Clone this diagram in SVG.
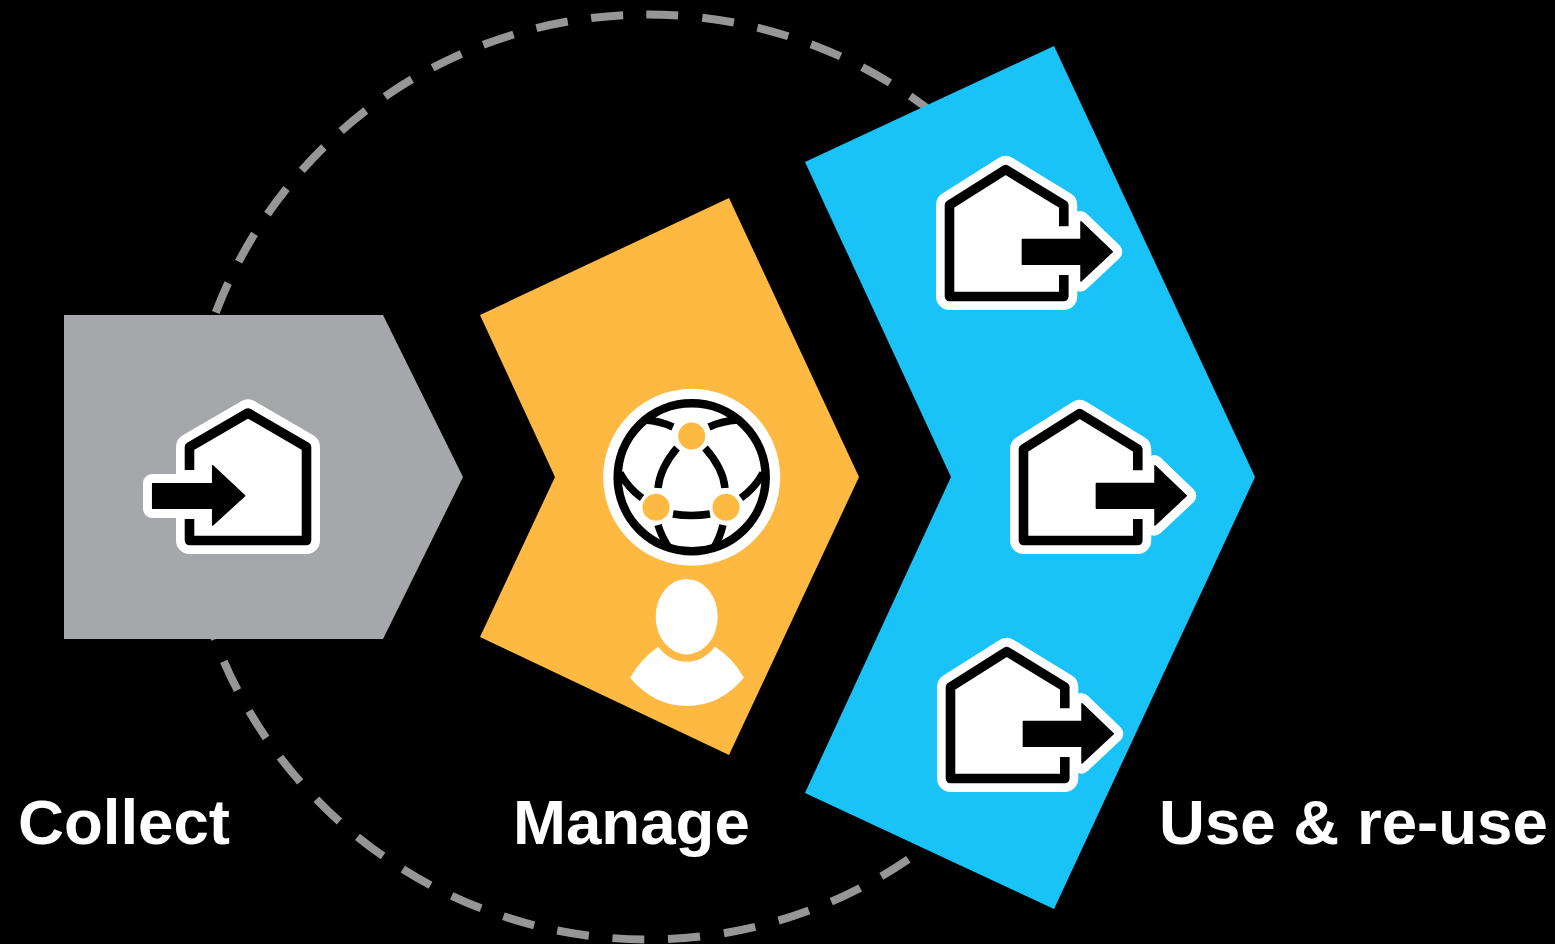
<svg xmlns="http://www.w3.org/2000/svg" xmlns:xlink="http://www.w3.org/1999/xlink" width="1555" height="944" viewBox="0 0 1555 944">
<style>
.label{font-family:"Liberation Sans",Arial,sans-serif;font-weight:700;font-size:63.6px;fill:#fff}
.halo{fill:#fff;stroke:#fff;stroke-linejoin:round}
.wall{fill:none;stroke:#000;stroke-width:9.6;stroke-linejoin:round}
.arrow{fill:#000;stroke:#000;stroke-width:1.5;stroke-linejoin:round}
.link{fill:none;stroke:#000;stroke-width:7.5}
.dot{fill:#fdb941}
.dash{fill:none;stroke:#969696;stroke-width:8}
</style>
<defs>
<g id="exit-icon">
<path class="halo" stroke-width="27" d="M949.5 205 L1005.7 169.5 L1063.8 205 V296.5 H949.5 Z"/>
<path class="halo" stroke-width="18" d="M1021.7 238.7 H1080.3 V220 L1113.3 251.7 L1080.3 282.7 V265 H1021.7 Z"/>
<path class="wall" d="M1063.8 226.3 V205 L1005.7 169.5 L949.5 205 V296.5 H1063.8 V275"/>
<path class="arrow" d="M1022.4 239.4 H1081 V221.8 L1112.3 251.7 L1081 281 V264.3 H1022.4 Z"/>
</g>
</defs>
<rect width="1555" height="944" fill="#000"/>
<g id="connectors">
<path class="dash" stroke-dasharray="32 24.09" d="M646.3 14.503 A462.5 462.5 0 0 1 1110.5 477 A462.5 462.5 0 0 1 644.3 939.485"/>
<path class="dash" stroke-dasharray="32 23.68" d="M644.3 939.485 A462.5 462.5 0 0 1 185.5 477 A462.5 462.5 0 0 1 646.3 14.503"/>
</g>
<g id="collect">
<path fill="#a6a7ab" d="M64 315 H383 L463 477 L383 639 H64 Z"/>
<path class="halo" stroke-width="27" d="M189.5 447 L248 413 L306.5 447 V540.5 H189.5 Z"/>
<path class="halo" stroke-width="18" d="M152 483 H212 V464 L245.7 495.7 L212 526.7 V509 H152 Z"/>
<path class="wall" d="M189.5 470 V447 L248 413 L306.5 447 V540.5 H189.5 V519"/>
<path class="arrow" d="M152.7 483.7 H212.7 V465.8 L244.7 495.7 L212.7 525 V508.3 H152.7 Z"/>
<text class="label" x="18" y="844">Collect</text>
</g>
<g id="manage">
<path fill="#fdb941" d="M480 315 L729 198 L859 477 L729 755 L480 637 L555 477 Z"/>
<circle cx="691.7" cy="477.3" r="88.5" fill="#fff"/>
<circle cx="691.7" cy="477.3" r="74" fill="none" stroke="#000" stroke-width="8.5"/>
<path class="link" d="M645 420 Q660 421 673 427 M738 420 Q722 421 709 427 M677 448 Q660 468 658 488 M705 448 Q723 468 725 488 M673 514 Q691 517 710 514 M620 473 Q628 488 642 498 M763 473 Q755 488 741 498 M658 525 Q662 538 670 549 M723 525 Q720 538 713 549"/>
<circle class="dot" cx="691.7" cy="436" r="13.5"/>
<circle class="dot" cx="656" cy="507.3" r="13.5"/>
<circle class="dot" cx="726" cy="507.3" r="13.5"/>
<ellipse cx="686.7" cy="616.7" rx="31" ry="37.7" fill="#fff"/>
<path fill="#fff" d="M630 677.7 Q640 660 658 646.7 Q670 661.7 686.7 661.7 Q703 661.7 715 646.7 Q733 658 744 677.7 Q720 706 686.7 706 Q654 706 630 677.7 Z"/>
<text class="label" x="513" y="844">Manage</text>
</g>
<g id="use-reuse">
<path fill="#19c2f7" d="M805 162 L1054 46 L1255 477 L1054 909 L805 793 L951 477 Z"/>
<use xlink:href="#exit-icon" href="#exit-icon"/>
<use xlink:href="#exit-icon" href="#exit-icon" x="74" y="244"/>
<use xlink:href="#exit-icon" href="#exit-icon" x="1" y="482"/>
<text class="label" x="1159" y="844">Use &amp; re-use</text>
</g>
</svg>
